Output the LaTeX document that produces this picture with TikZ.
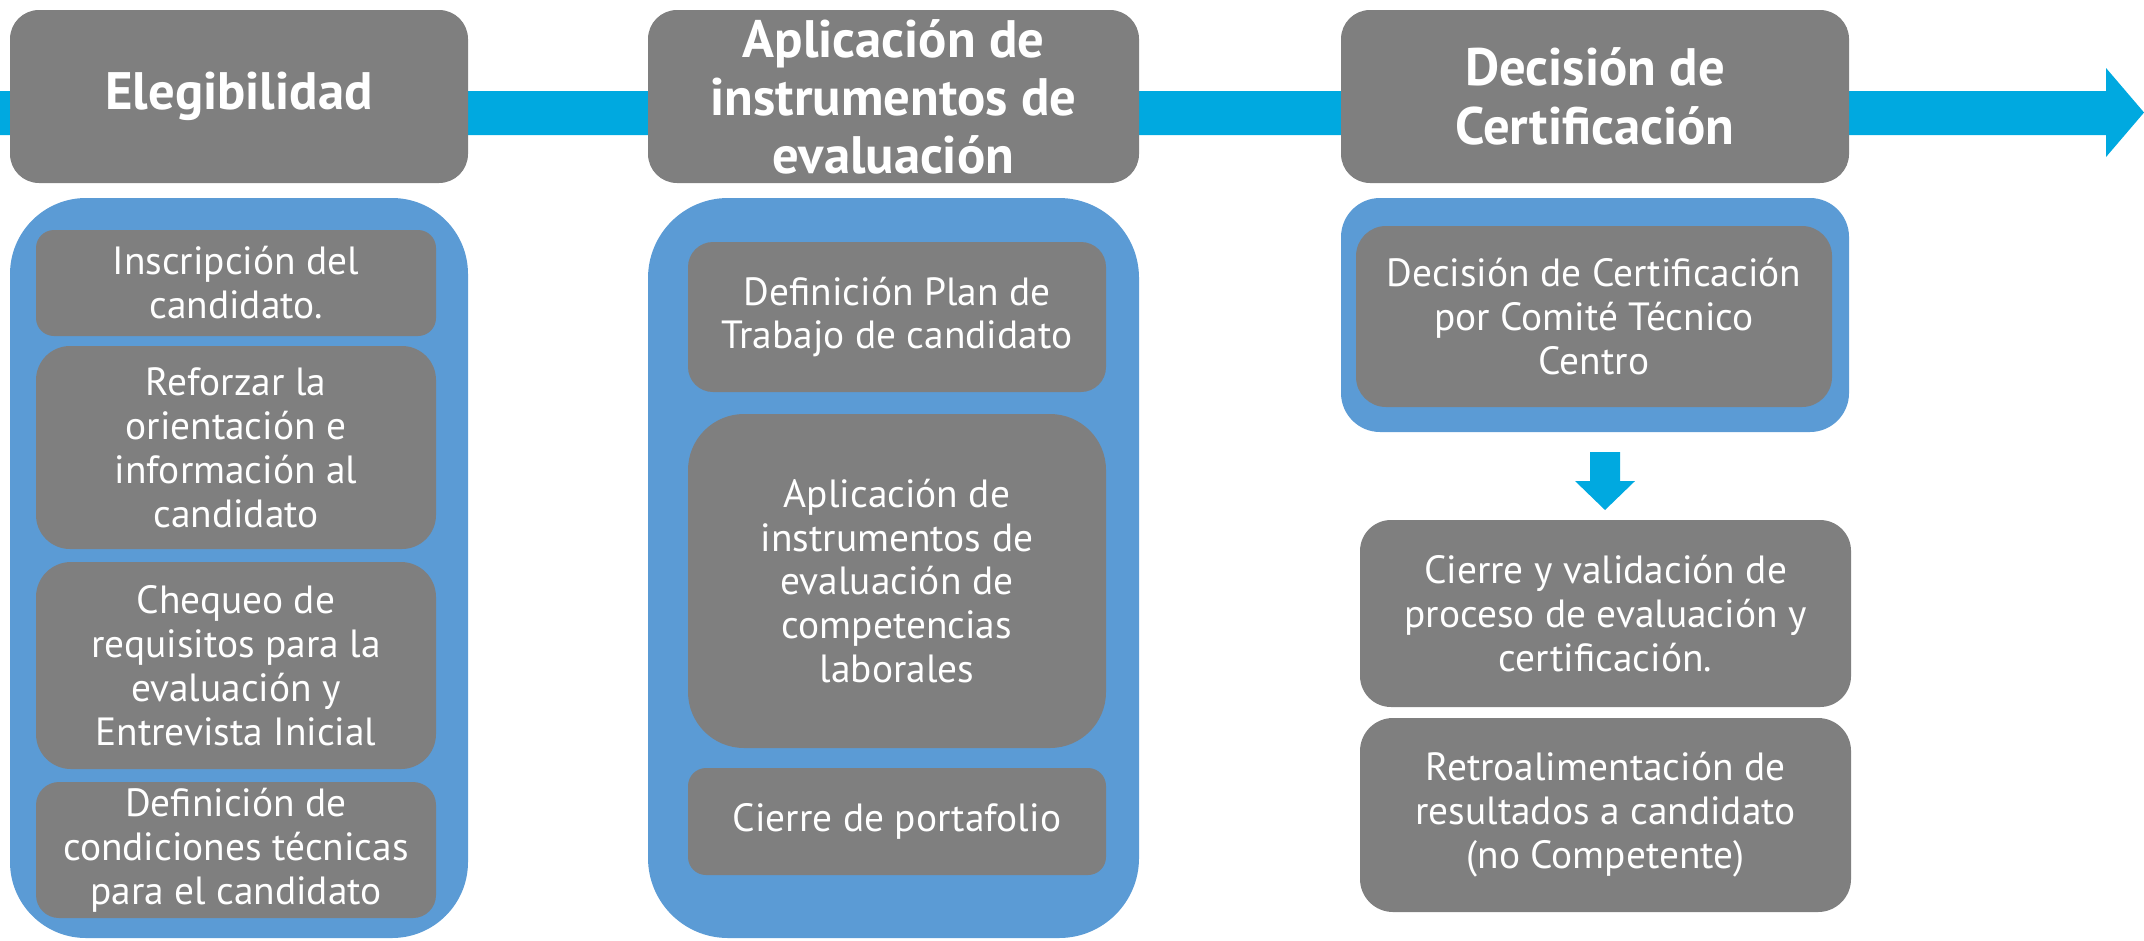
\documentclass[tikz,border=0pt]{standalone}
\usepackage{fontspec}
\setmainfont{PT Sans}
\definecolor{bandblue}{HTML}{00A9E0}
\definecolor{groupblue}{HTML}{5B9BD5}
\definecolor{boxgray}{HTML}{7F7F7F}

\begin{document}
\begin{tikzpicture}[x=0.1mm, y=-0.1mm,
    stage/.style={fill=boxgray, text=white, align=center, inner sep=0pt, rounded corners=2.9mm,
      font=\bfseries\fontsize{15}{16.8}\selectfont},
    group/.style={fill=groupblue, inner sep=0pt, rounded corners=#1},
    task/.style={fill=boxgray, text=white, align=center, inner sep=0pt, rounded corners=#1,
      font=\fontsize{11.2}{12.5}\selectfont}]
  \useasboundingbox (0,0) rectangle (2144,940);

  % timeline band
  \fill[bandblue] (0,91) -- (2106,91) -- (2106,68) -- (2144,112.5) -- (2106,157) -- (2106,135) -- (0,135) -- cycle;

  \node[stage, minimum width=45.8mm, minimum height=17.3mm] (elig) at (239,96.5) {Elegibilidad};
  \node[stage, minimum width=49.1mm, minimum height=17.3mm, font=\bfseries\fontsize{15}{16.5}\selectfont] (aplic) at (893.5,96.5) {Aplicación de\\instrumentos de\\evaluación};
  \node[stage, minimum width=50.8mm, minimum height=17.3mm] (decis) at (1595,96.5) {Decisión de\\Certificación};

  % groups
  \node[group=7.6mm, minimum width=45.8mm, minimum height=74mm] (grpelig) at (239,568) {};
  \node[group=8mm, minimum width=49.1mm, minimum height=74mm] (grpaplic) at (893.5,568) {};
  \node[group=3.9mm, minimum width=50.8mm, minimum height=23.4mm] (grpdecis) at (1595,315) {};

  \node[task=1.8mm, minimum width=40mm, minimum height=10.6mm] (inscr) at (236,283) {Inscripción del\\candidato.};
  \node[task=3.4mm, minimum width=40mm, minimum height=20.3mm] (orient) at (236,447.5) {Reforzar la\\orientación e\\información al\\candidato};
  \node[task=3.5mm, minimum width=40mm, minimum height=20.7mm] (chequeo) at (236,665.5) {Chequeo de\\requisitos para la\\evaluación y\\Entrevista Inicial};
  \node[task=2.3mm, minimum width=40mm, minimum height=13.6mm] (condic) at (236,850) {Definición de\\condiciones técnicas\\para el candidato};

  \node[task=2.5mm, minimum width=41.8mm, minimum height=15mm] (plan) at (897,317) {Definición Plan de\\Trabajo de candidato};
  \node[task=5.6mm, minimum width=41.8mm, minimum height=33.4mm] (instr) at (897,581) {Aplicación de\\instrumentos de\\evaluación de\\competencias\\laborales};
  \node[task=1.8mm, minimum width=41.8mm, minimum height=10.7mm] (portaf) at (897,821.5) {Cierre de portafolio};

  \node[task=3mm, minimum width=47.6mm, minimum height=18.1mm] (comite) at (1594,316.5) {Decisión de Certificación\\por Comité Técnico\\Centro};

  \node[task=3.1mm, minimum width=49.1mm, minimum height=18.7mm] (cierre) at (1605.5,613.5) {Cierre y validación de\\proceso de evaluación y\\certificación.};
  \node[task=3.3mm, minimum width=49.1mm, minimum height=19.4mm] (retro) at (1605.5,815) {Retroalimentación de\\resultados a candidato\\(no Competente)};

  % down arrow
  \fill[bandblue] (1590,452) -- (1620,452) -- (1620,481) -- (1635,481) -- (1605,510) -- (1575,481) -- (1590,481) -- cycle;
\end{tikzpicture}
\end{document}
